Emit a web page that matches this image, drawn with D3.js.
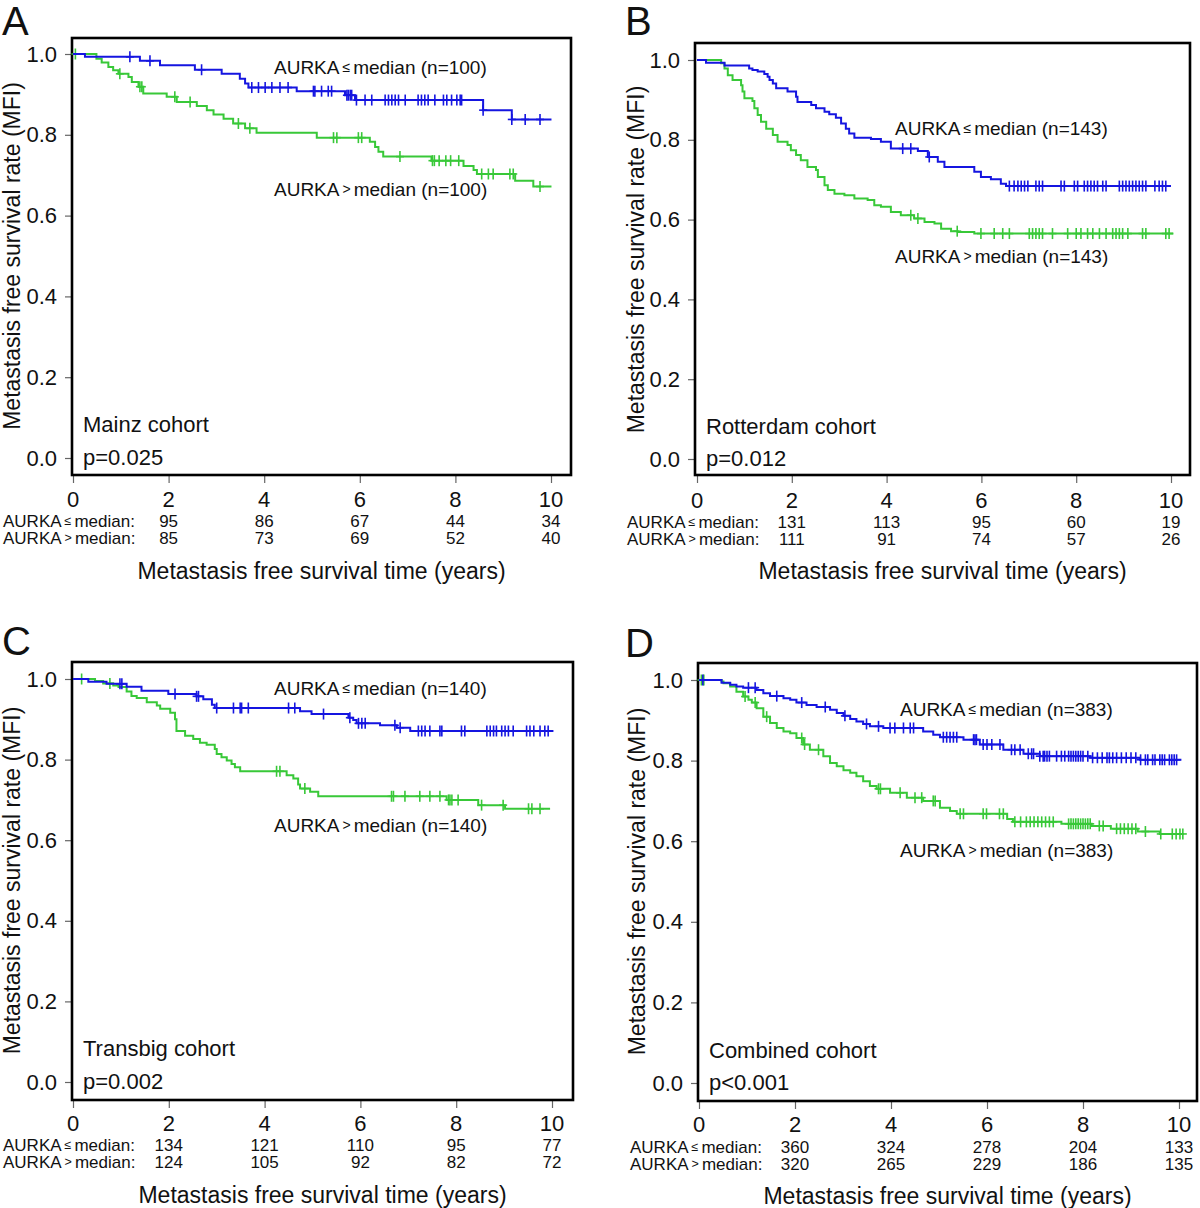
<!DOCTYPE html>
<html><head><meta charset="utf-8">
<script src="https://cdn.jsdelivr.net/npm/d3@7"></script>
<style>
body{margin:0;background:#fff;}
svg text{font-family:"Liberation Sans",Arial,Helvetica,sans-serif;fill:#111;}
</style></head><body>
<svg id="chart" width="1200" height="1208"></svg>
<script>
// ---------------- DATA ----------------
const timeTicks = [0, 2, 4, 6, 8, 10];
const survTicks = [0, 0.2, 0.4, 0.6, 0.8, 1.0];
const riskTimes = [2, 4, 6, 8, 10];

// Panel A - Mainz
const mainzLowSteps = [[0,1],[0.25,0.993],[1.40,0.983],[1.82,0.972],[2.55,0.961],[3.11,0.951],[3.49,0.939],[3.60,0.927],[3.67,0.917],[4.68,0.908],[5.69,0.898],[5.90,0.886],[8.58,0.861],[9.18,0.838],[10.01,0.838]];
const mainzLowCensor = [1.19,1.61,2.69,3.74,3.88,4.02,4.16,4.33,4.50,5.03,5.06,5.20,5.34,5.41,5.73,5.76,5.80,5.83,5.93,6.11,6.25,6.53,6.60,6.67,6.74,6.81,6.95,7.22,7.29,7.36,7.43,7.57,7.75,7.82,7.92,8.03,8.10,8.13,8.58,9.18,9.46,9.77];
const mainzHighSteps = [[0,1],[0.49,0.988],[0.60,0.979],[0.74,0.968],[0.84,0.960],[0.95,0.951],[1.16,0.943],[1.23,0.931],[1.37,0.919],[1.47,0.902],[1.96,0.894],[2.17,0.881],[2.59,0.871],[2.80,0.861],[2.94,0.850],[3.15,0.840],[3.35,0.828],[3.60,0.816],[3.84,0.805],[5.10,0.793],[6.21,0.783],[6.32,0.770],[6.39,0.758],[6.49,0.746],[7.50,0.736],[8.17,0.723],[8.38,0.713],[8.45,0.703],[9.25,0.686],[9.63,0.672],[10.01,0.672]];
const mainzHighCensor = [0.05,0.98,1.40,1.44,2.13,2.45,3.46,3.70,5.45,5.52,5.97,6.04,6.84,7.52,7.56,7.66,7.80,7.90,8.07,8.55,8.69,8.79,9.14,9.21,9.77];
const mainzRiskLow = [95, 86, 67, 44, 34];
const mainzRiskHigh = [85, 73, 69, 52, 40];

// Panel B - Rotterdam
const rotLowSteps = [[0,1],[0.19,0.993],[0.58,0.986],[1.10,0.979],[1.17,0.975],[1.28,0.971],[1.42,0.965],[1.49,0.958],[1.53,0.950],[1.60,0.941],[1.67,0.929],[1.91,0.921],[2.09,0.908],[2.12,0.895],[2.41,0.887],[2.51,0.879],[2.69,0.870],[2.79,0.864],[2.93,0.855],[3.04,0.841],[3.14,0.828],[3.21,0.816],[3.32,0.805],[3.67,0.802],[3.88,0.795],[4.09,0.778],[4.66,0.772],[4.87,0.757],[5.08,0.745],[5.22,0.732],[5.85,0.720],[5.99,0.707],[6.20,0.701],[6.41,0.690],[6.52,0.684],[10.0,0.684]];
const rotLowCensor = [4.34,4.51,4.90,6.59,6.69,6.77,6.84,6.91,6.98,7.15,7.22,7.29,7.68,7.75,7.96,8.03,8.17,8.24,8.31,8.38,8.45,8.56,8.63,8.91,8.98,9.05,9.12,9.19,9.26,9.33,9.40,9.47,9.66,9.75,9.82,9.89];
const rotHighSteps = [[0,1],[0.51,0.992],[0.58,0.979],[0.65,0.962],[0.75,0.950],[0.93,0.937],[0.96,0.921],[1.00,0.904],[1.17,0.897],[1.21,0.879],[1.28,0.862],[1.35,0.845],[1.46,0.828],[1.60,0.812],[1.70,0.795],[1.91,0.787],[1.98,0.774],[2.09,0.762],[2.19,0.749],[2.33,0.732],[2.51,0.724],[2.55,0.707],[2.69,0.686],[2.76,0.674],[2.90,0.665],[3.11,0.661],[3.32,0.653],[3.60,0.649],[3.74,0.636],[3.88,0.632],[4.09,0.619],[4.30,0.611],[4.58,0.603],[4.80,0.594],[5.01,0.590],[5.15,0.577],[5.36,0.571],[5.50,0.569],[5.85,0.565],[10.05,0.565]];
const rotHighCensor = [4.51,4.66,5.49,5.99,6.27,6.45,6.59,7.01,7.08,7.15,7.22,7.29,7.50,7.82,8.00,8.10,8.24,8.35,8.49,8.63,8.77,8.84,8.91,8.98,9.09,9.40,9.47,9.89,9.96];
const rotRiskLow = [131, 113, 95, 60, 19];
const rotRiskHigh = [111, 91, 74, 57, 26];

// Panel C - Transbig
const trbLowSteps = [[0,1],[0.32,0.993],[0.70,0.988],[1.12,0.981],[1.43,0.971],[1.99,0.963],[2.58,0.957],[2.72,0.950],[2.90,0.936],[2.96,0.928],[4.74,0.920],[4.98,0.913],[5.75,0.904],[5.85,0.898],[5.92,0.890],[6.41,0.885],[6.76,0.879],[7.04,0.871],[10.03,0.871]];
const trbLowCensor = [0.98,1.02,2.13,2.58,2.62,3.00,3.35,3.49,3.52,3.66,4.50,4.63,5.23,5.78,5.96,6.03,6.10,6.72,6.83,7.21,7.28,7.35,7.45,7.66,7.70,8.11,8.18,8.64,8.71,8.78,8.84,8.95,9.02,9.09,9.19,9.47,9.54,9.62,9.75,9.85,9.92];
const trbHighSteps = [[0,1],[0.46,0.995],[0.63,0.989],[0.84,0.984],[0.95,0.980],[1.12,0.969],[1.22,0.958],[1.33,0.953],[1.54,0.942],[1.75,0.934],[1.82,0.926],[2.03,0.916],[2.13,0.900],[2.16,0.871],[2.34,0.859],[2.51,0.851],[2.65,0.842],[2.79,0.837],[2.96,0.826],[3.00,0.814],[3.10,0.806],[3.21,0.798],[3.31,0.789],[3.38,0.781],[3.49,0.771],[4.46,0.761],[4.60,0.753],[4.70,0.738],[4.74,0.728],[4.95,0.720],[5.12,0.709],[7.80,0.700],[8.46,0.687],[9.02,0.678],[9.96,0.678]];
const trbHighCensor = [0.18,0.77,4.25,4.32,4.84,6.65,6.69,6.93,7.24,7.45,7.66,7.84,7.87,7.91,8.04,8.53,8.98,9.51,9.58,9.75];
const trbRiskLow = [134, 121, 110, 95, 77];
const trbRiskHigh = [124, 105, 92, 82, 72];

// Panel D - Combined
const comLowSteps = [[0,1],[0.47,0.993],[0.65,0.988],[0.78,0.984],[0.92,0.981],[1.20,0.975],[1.34,0.967],[1.48,0.960],[1.76,0.955],[1.90,0.951],[2.03,0.944],[2.24,0.938],[2.45,0.933],[2.73,0.926],[2.87,0.918],[3.01,0.911],[3.15,0.903],[3.28,0.897],[3.42,0.891],[3.56,0.885],[3.84,0.881],[4.67,0.872],[4.88,0.864],[5.02,0.858],[5.51,0.852],[5.85,0.840],[6.34,0.827],[6.76,0.817],[7.10,0.811],[8.15,0.807],[9.19,0.802],[10.05,0.802]];
const comLowCensor = [0.08,1.03,1.17,1.62,2.14,2.63,3.04,3.49,3.74,3.98,4.08,4.26,4.40,4.47,5.09,5.16,5.23,5.30,5.37,5.72,5.75,5.78,5.92,6.00,6.10,6.27,6.51,6.58,6.69,6.86,6.93,6.97,7.10,7.17,7.20,7.25,7.30,7.45,7.55,7.62,7.70,7.75,7.80,7.85,7.90,7.95,8.00,8.10,8.20,8.30,8.40,8.50,8.55,8.62,8.70,8.80,8.90,9.00,9.10,9.20,9.30,9.35,9.45,9.50,9.60,9.65,9.70,9.80,9.85,9.90,9.95];
const comHighSteps = [[0,1],[0.47,0.996],[0.51,0.992],[0.65,0.984],[0.78,0.971],[0.92,0.959],[1.03,0.951],[1.10,0.944],[1.20,0.930],[1.34,0.909],[1.48,0.893],[1.62,0.881],[1.76,0.872],[1.90,0.868],[2.03,0.856],[2.17,0.840],[2.31,0.827],[2.59,0.811],[2.73,0.794],[2.87,0.786],[3.01,0.776],[3.15,0.770],[3.28,0.761],[3.42,0.749],[3.56,0.737],[3.70,0.730],[3.98,0.720],[4.33,0.708],[4.67,0.700],[5.02,0.683],[5.23,0.675],[5.37,0.668],[6.42,0.655],[6.54,0.648],[7.55,0.643],[8.18,0.638],[8.58,0.631],[9.14,0.624],[9.60,0.618],[10.08,0.618]];
const comHighCensor = [0.05,0.10,0.96,1.17,1.41,2.14,2.20,2.49,3.74,3.78,4.19,4.50,4.64,4.88,4.92,5.44,5.51,5.92,5.99,6.26,6.34,6.58,6.70,6.82,6.90,6.98,7.06,7.14,7.22,7.30,7.38,7.70,7.75,7.80,7.85,7.90,7.95,8.00,8.05,8.10,8.15,8.34,8.42,8.70,8.78,8.86,8.94,9.02,9.10,9.30,9.62,9.86,9.94,10.02,10.08];
const comRiskLow = [360, 324, 278, 204, 133];
const comRiskHigh = [320, 265, 229, 186, 135];

const panelLetters = ["A", "B", "C", "D"];
const cohortNames = ["Mainz cohort", "Rotterdam cohort", "Transbig cohort", "Combined cohort"];
const pValues = ["p=0.025", "p=0.012", "p=0.002", "p<0.001"];
const groupSizes = [100, 143, 140, 383];

// ---------------- LAYOUT ----------------
const BLUE = "#1515e0", GREEN = "#38c838";
const layouts = [
  {letterX:2, letterY:35, box:[72,38,571,475], xr:[73,551], yr:[458,54], tickLabY:499, riskY:[521,538], riskLabX:3, xTitleY:571, yTitleX:12, lowLab:[274,67], highLab:[274,189], cohort:[83,424], pv:[83,457]},
  {letterX:625, letterY:35, box:[695,43,1190,475], xr:[697,1171], yr:[459,60], tickLabY:500, riskY:[522,539], riskLabX:627, xTitleY:571, yTitleX:636, lowLab:[895,128], highLab:[895,256], cohort:[706,426], pv:[706,458]},
  {letterX:2, letterY:655, box:[72,662,573,1100], xr:[73,552], yr:[1082,679], tickLabY:1123, riskY:[1145,1162], riskLabX:3, xTitleY:1195, yTitleX:12, lowLab:[274,688], highLab:[274,825], cohort:[83,1048], pv:[83,1081]},
  {letterX:625, letterY:657, box:[698,663,1197,1101], xr:[699,1179], yr:[1083,680], tickLabY:1124, riskY:[1147,1164], riskLabX:630, xTitleY:1196, yTitleX:637, lowLab:[900,709], highLab:[900,850], cohort:[709,1050], pv:[709,1082]}
];

const panels = [
  {low:{steps:mainzLowSteps,cens:mainzLowCensor,risk:mainzRiskLow}, high:{steps:mainzHighSteps,cens:mainzHighCensor,risk:mainzRiskHigh}},
  {low:{steps:rotLowSteps,cens:rotLowCensor,risk:rotRiskLow}, high:{steps:rotHighSteps,cens:rotHighCensor,risk:rotRiskHigh}},
  {low:{steps:trbLowSteps,cens:trbLowCensor,risk:trbRiskLow}, high:{steps:trbHighSteps,cens:trbHighCensor,risk:trbRiskHigh}},
  {low:{steps:comLowSteps,cens:comLowCensor,risk:comRiskLow}, high:{steps:comHighSteps,cens:comHighCensor,risk:comRiskHigh}}
];

const svg = d3.select("#chart");

function survAt(steps, t){
  let v = 1;
  for (const [tt, s] of steps){ if (tt <= t + 1e-9) v = s; else break; }
  return v;
}

// label with small comparison symbol
function groupLabel(sel, x, y, sym, rest, size, symSize, gap){
  const t = sel.append("text").attr("x", x).attr("y", y)
    .attr("dominant-baseline", "central").attr("font-size", size);
  t.append("tspan").text("AURKA");
  t.append("tspan").attr("font-size", symSize).attr("dx", gap).text(sym);
  t.append("tspan").attr("font-size", size).attr("dx", gap).text(rest);
  return t;
}

panels.forEach((p, i) => {
  const L = layouts[i];
  const g = svg.append("g");
  const x = d3.scaleLinear().domain([0, 10]).range(L.xr);
  const y = d3.scaleLinear().domain([0, 1]).range(L.yr);
  const [bx0, by0, bx1, by1] = L.box;

  // panel letter
  g.append("text").attr("x", L.letterX).attr("y", L.letterY)
    .attr("font-size", 40).text(panelLetters[i]);

  // y axis ticks
  const yAxis = d3.axisLeft(y).tickValues(survTicks).tickFormat(d3.format(".1f")).tickSize(7).tickPadding(8);
  const ya = g.append("g").attr("transform", `translate(${bx0},0)`).call(yAxis);
  ya.select(".domain").remove();
  ya.selectAll(".tick line").attr("stroke", "#666").attr("stroke-width", 1.2);
  ya.selectAll(".tick text").attr("font-size", 22).attr("fill", "#111")
    .style("font-family", '"Liberation Sans",Arial,sans-serif');

  // x axis ticks
  const xAxis = d3.axisBottom(x).tickValues(timeTicks).tickFormat(d3.format("d")).tickSize(8).tickPadding(0);
  const xa = g.append("g").attr("transform", `translate(0,${by1})`).call(xAxis);
  xa.select(".domain").remove();
  xa.selectAll(".tick line").attr("stroke", "#666").attr("stroke-width", 1.2);
  xa.selectAll(".tick text").remove();
  g.selectAll(".xtl").data(timeTicks).enter().append("text")
    .attr("x", d => x(d)).attr("y", L.tickLabY).attr("text-anchor", "middle")
    .attr("dominant-baseline", "central").attr("font-size", 22).text(d => d);

  // box
  g.append("rect").attr("x", bx0).attr("y", by0).attr("width", bx1 - bx0).attr("height", by1 - by0)
    .attr("fill", "none").attr("stroke", "#000").attr("stroke-width", 2.6);

  // curves
  const line = d3.line().x(d => x(d[0])).y(d => y(d[1])).curve(d3.curveStepAfter);
  [["high", GREEN], ["low", BLUE]].forEach(([k, col]) => {
    const s = p[k];
    g.append("path").datum(s.steps).attr("d", line).attr("fill", "none")
      .attr("stroke", col).attr("stroke-width", 2);
    const cg = g.append("g").attr("stroke", col).attr("stroke-width", 1.6);
    s.cens.forEach(t => {
      const cx = x(t), cy = y(survAt(s.steps, t));
      cg.append("line").attr("x1", cx).attr("x2", cx).attr("y1", cy - 5.5).attr("y2", cy + 5.5);
      cg.append("line").attr("x1", cx - 4).attr("x2", cx + 4).attr("y1", cy).attr("y2", cy);
    });
  });

  // in-plot labels
  groupLabel(g, L.lowLab[0], L.lowLab[1], "≤", `median (n=${groupSizes[i]})`, 19, 14, 3);
  groupLabel(g, L.highLab[0], L.highLab[1], ">", `median (n=${groupSizes[i]})`, 19, 14, 3);
  g.append("text").attr("x", L.cohort[0]).attr("y", L.cohort[1]).attr("dominant-baseline", "central")
    .attr("font-size", 22).text(cohortNames[i]);
  g.append("text").attr("x", L.pv[0]).attr("y", L.pv[1]).attr("dominant-baseline", "central")
    .attr("font-size", 22).text(pValues[i]);

  // risk table
  [["low", "≤", 0], ["high", ">", 1]].forEach(([k, sym, r]) => {
    groupLabel(g, L.riskLabX, L.riskY[r], sym, "median:", 17, 12.5, 3);
    g.selectAll(".risk" + k).data(p[k].risk).enter().append("text")
      .attr("x", (d, j) => x(riskTimes[j])).attr("y", L.riskY[r])
      .attr("text-anchor", "middle").attr("dominant-baseline", "central")
      .attr("font-size", 17).text(d => d);
  });

  // axis titles
  g.append("text").attr("x", (bx0 + bx1) / 2).attr("y", L.xTitleY).attr("text-anchor", "middle")
    .attr("dominant-baseline", "central").attr("font-size", 23)
    .text("Metastasis free survival time (years)");
  const yc = (L.yr[0] + L.yr[1]) / 2;
  g.append("text").attr("transform", `translate(${L.yTitleX},${yc}) rotate(-90)`)
    .attr("text-anchor", "middle").attr("dominant-baseline", "central").attr("font-size", 23)
    .text("Metastasis free survival rate (MFI)");
});
</script>
</body></html>
